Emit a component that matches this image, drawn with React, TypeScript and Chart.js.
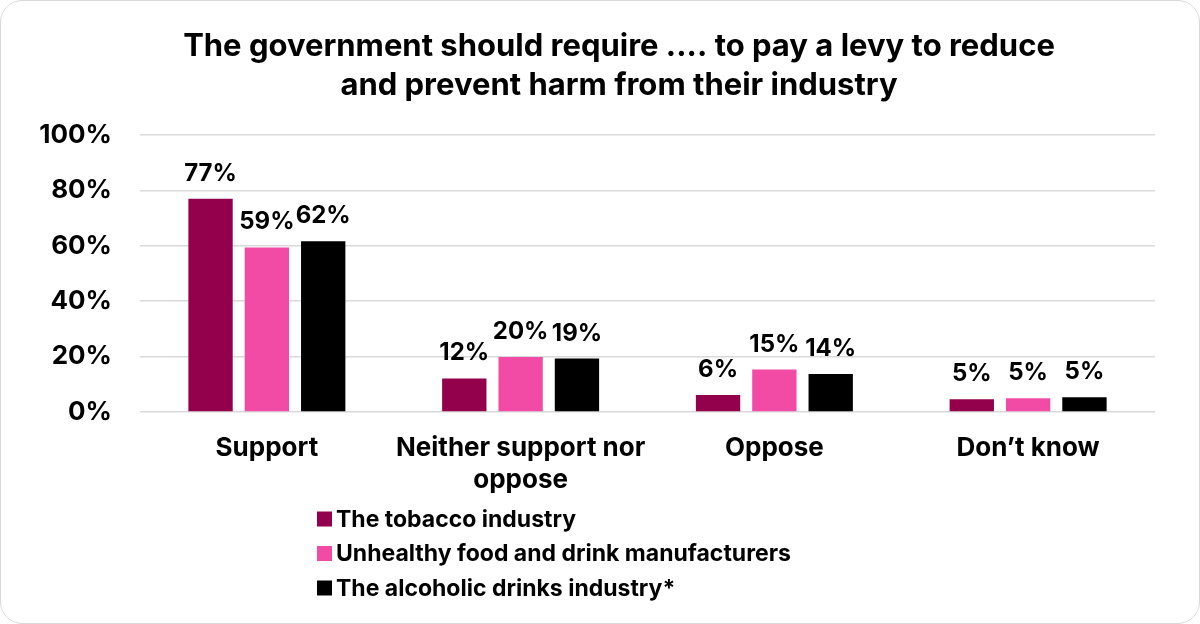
import React, { useEffect, useRef } from "react";
import { Chart, registerables } from "chart.js";

Chart.register(...registerables);

// ---- Data ----
const categories: string[][] = [["Support"], ["Neither support nor", "oppose"], ["Oppose"], ["Don’t know"]];
const seriesNames = [
  "The tobacco industry",
  "Unhealthy food and drink manufacturers",
  "The alcoholic drinks industry*",
];
const tobaccoValues = [77, 12.1, 6.1, 4.6];
const unhealthyValues = [59.4, 19.9, 15.3, 5.0];
const alcoholValues = [61.6, 19.3, 13.7, 5.3];
const seriesColors = ["#93004c", "#f24ba5", "#000000"];
const yTickValues = [0, 20, 40, 60, 80, 100];
const titleLines = [
  "The government should require .... to pay a levy to reduce",
  "and prevent harm from their industry",
];

const FONT = "Inter";

const titlePlugin = {
  id: "customTitle",
  afterDraw(chart: any) {
    const ctx = chart.ctx;
    ctx.save();
    ctx.font = `bold 31px ${FONT}`;
    ctx.fillStyle = "#000";
    ctx.textAlign = "center";
    ctx.textBaseline = "middle";
    titleLines.forEach((line, i) => {
      ctx.fillText(line, 619, 47 + i * 39);
    });
    ctx.restore();
  },
};

const dataLabelPlugin = {
  id: "dataLabels",
  afterDatasetsDraw(chart: any) {
    const ctx = chart.ctx;
    ctx.save();
    ctx.font = `bold 24px ${FONT}`;
    ctx.fillStyle = "#000";
    ctx.textAlign = "center";
    ctx.textBaseline = "alphabetic";
    chart.data.datasets.forEach((ds: any, i: number) => {
      const meta = chart.getDatasetMeta(i);
      meta.data.forEach((bar: any, j: number) => {
        const v = ds.data[j] as number;
        ctx.fillText(Math.round(v) + "%", bar.x, bar.y - 18);
      });
    });
    ctx.restore();
  },
};

const customLegendPlugin = {
  id: "customLegend",
  afterDraw(chart: any) {
    const ctx = chart.ctx;
    const base = chart.chartArea.bottom;
    ctx.save();
    ctx.font = `bold 23px ${FONT}`;
    ctx.textBaseline = "middle";
    ctx.textAlign = "left";
    chart.data.datasets.forEach((ds: any, i: number) => {
      const y = base + 107 + i * 34.5;
      ctx.fillStyle = ds.backgroundColor;
      ctx.fillRect(317, y - 7.5, 15, 15);
      ctx.fillStyle = "#000";
      ctx.fillText(ds.label, 336, y + 1);
    });
    ctx.restore();
  },
};

export default function App() {
  const canvasRef = useRef<HTMLCanvasElement | null>(null);

  useEffect(() => {
    document.body.style.margin = "0";
    const canvas = canvasRef.current;
    if (!canvas) return;
    const seriesValues = [tobaccoValues, unhealthyValues, alcoholValues];
    const chart = new Chart(canvas, {
      type: "bar",
      data: {
        labels: categories as any,
        datasets: seriesNames.map((name, i) => ({
          label: name,
          data: seriesValues[i],
          backgroundColor: seriesColors[i],
          borderWidth: 0,
          categoryPercentage: 0.666,
          barPercentage: 0.787,
        })),
      },
      options: {
        responsive: false,
        animation: false,
        devicePixelRatio: 1,
        layout: { padding: { top: 135, left: 0, right: 45, bottom: 122 } },
        plugins: {
          legend: { display: false },
          tooltip: { enabled: false },
          title: { display: false },
        },
        scales: {
          x: {
            grid: { display: false },
            border: { display: false },
            ticks: {
              color: "#000",
              font: { family: FONT, weight: "bold", size: 26, lineHeight: 1.2 },
              padding: 13,
              maxRotation: 0,
              autoSkip: false,
            },
            afterFit(scale: any) {
              scale.height = 90;
            },
          },
          y: {
            min: 0,
            max: 100,
            grid: { color: "#d9d9d9", lineWidth: 1.5, drawTicks: false },
            border: { display: false },
            afterBuildTicks(scale: any) {
              scale.ticks = yTickValues.map((v) => ({ value: v }));
            },
            ticks: {
              color: "#000",
              font: { family: FONT, weight: "bold", size: 26 },
              padding: 28,
              callback: (v: any) => v + "%",
            },
            afterFit(scale: any) {
              scale.width = 140;
            },
          },
        },
      },
      plugins: [dataLabelPlugin, customLegendPlugin, titlePlugin],
    });
    return () => chart.destroy();
  }, []);

  return (
    <div style={{ position: "relative", width: 1200, height: 624, background: "#fff" }}>
      <canvas ref={canvasRef} width={1200} height={624} style={{ width: 1200, height: 624, display: "block" }} />
      <div
        style={{
          position: "absolute",
          inset: 0,
          border: "1.5px solid #d9d9d9",
          borderRadius: 22,
          boxSizing: "border-box",
          pointerEvents: "none",
        }}
      />
    </div>
  );
}
